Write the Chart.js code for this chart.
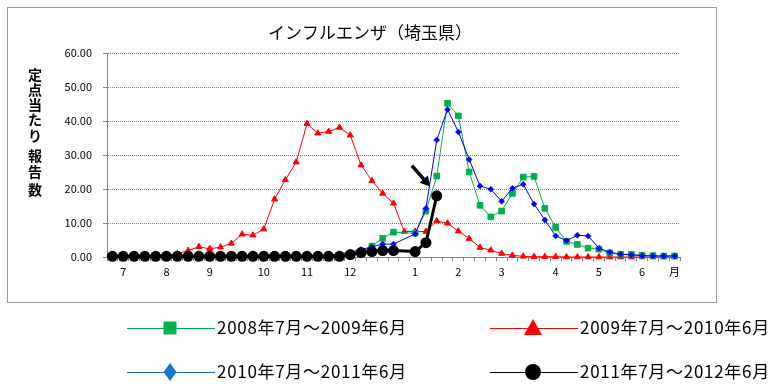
<!DOCTYPE html>
<html>
<head>
<meta charset="utf-8">
<script src="https://cdn.jsdelivr.net/npm/chart.js@4"></script>
<style>
  html, body { margin: 0; padding: 0; background: #fff; }
</style>
</head>
<body>
<canvas id="chart" width="777" height="384"></canvas>
<script>
// 週ごとのカテゴリ (53週、月の区切りだけラベルあり)
const weekLabels = [
  "", "7", "", "", "", "8", "", "", "", "9", "", "", "", "", "10", "", "", "",
  "11", "", "", "", "12", "", "", "", "", "", "1", "", "", "", "2", "", "", "",
  "3", "", "", "", "", "4", "", "", "", "5", "", "", "", "6", "", "", "月"
];

const yTicks = [0, 10, 20, 30, 40, 50, 60];

const seasonNames = [
  "2008年7月～2009年6月",
  "2009年7月～2010年6月",
  "2010年7月～2011年6月",
  "2011年7月～2012年6月"
];

// 2008年7月～2009年6月
const season0809 = [
  0.1, 0.1, 0.1, 0.1, 0.1, 0.1, 0.1, 0.1, 0.1, 0.1, 0.1, 0.1, 0.1, 0.1, 0.1, 0.1, 0.2, 0.2,
  0.2, 0.3, 0.3, 0.4, 0.6, 1.4, 3.2, 5.5, 7.3, null, 7.0, 13.5, 23.8, 45.2, 41.5, 25.0, 15.2, 11.8,
  13.5, 18.7, 23.5, 23.7, 14.3, 8.7, 4.6, 3.7, 2.6, 2.3, 1.2, 0.8, 0.8, 0.5, 0.4, 0.3, 0.3
];

// 2009年7月～2010年6月
const season0910 = [
  0.2, 0.2, 0.3, 0.3, 0.4, 0.5, 0.9, 1.9, 3.0, 2.4, 2.9, 4.0, 6.7, 6.4, 8.2, 17.0, 22.7, 27.9,
  39.2, 36.4, 36.9, 38.1, 35.8, 27.0, 22.4, 18.7, 15.8, 7.5, 7.5, 7.5, 10.6, 9.9, 7.6, 5.4, 2.8, 2.0,
  1.0, 0.5, 0.2, 0.1, 0.1, 0.1, 0.0, 0.0, 0.0, 0.0, 0.0, 0.0, 0.0, 0.0, 0.0, 0.0, 0.0
];

// 2010年7月～2011年6月
const season1011 = [
  0.1, 0.1, 0.1, 0.1, 0.1, 0.1, 0.1, 0.1, 0.1, 0.1, 0.1, 0.1, 0.1, 0.1, 0.1, 0.1, 0.1, 0.2,
  0.2, 0.3, 0.5, 0.9, 1.4, 2.2, 3.0, 3.8, 3.8, null, 6.8, 14.3, 34.4, 43.4, 36.8, 28.7, 20.9, 19.9,
  16.4, 20.2, 21.4, 15.6, 10.9, 6.2, 4.8, 6.4, 6.2, 2.6, 1.4, 0.8, 0.6, 0.4, 0.3, 0.3, 0.3
];

// 2011年7月～2012年6月
const season1112 = [
  0.2, 0.2, 0.2, 0.2, 0.2, 0.2, 0.2, 0.2, 0.2, 0.2, 0.2, 0.2, 0.2, 0.2, 0.2, 0.2, 0.2, 0.2,
  0.2, 0.2, 0.2, 0.2, 0.7, 1.3, 1.6, 1.9, 1.9, null, 1.6, 4.2, 18.0
];

// 矢印 (カテゴリ位置, 値)
const arrowFrom = [27.7, 26.9];
const arrowTo = [29.4, 20.7];

const FONT = '"Noto Sans CJK JP", "Noto Sans", sans-serif';
Chart.defaults.font.family = FONT;
Chart.defaults.color = "#000";

const legendItems = [
  { style: "rect", color: "#00B050", line: "#00A050", x: 127, y: 328 },
  { style: "triangle", color: "#FF0000", line: "#FF0000", x: 490, y: 328 },
  { style: "diamond", color: "#1878C8", line: "#1F6BB8", x: 127, y: 372 },
  { style: "circle", color: "#000000", line: "#000000", x: 490, y: 372 }
];

function drawMarker(ctx, style, x, y, color) {
  ctx.fillStyle = color;
  ctx.beginPath();
  if (style === "rect") {
    ctx.rect(x - 6.5, y - 6.5, 13, 13);
  } else if (style === "triangle") {
    ctx.moveTo(x, y - 9);
    ctx.lineTo(x + 9, y + 7);
    ctx.lineTo(x - 9, y + 7);
    ctx.closePath();
  } else if (style === "diamond") {
    ctx.moveTo(x, y - 9);
    ctx.lineTo(x + 6.5, y);
    ctx.lineTo(x, y + 9);
    ctx.lineTo(x - 6.5, y);
    ctx.closePath();
  } else {
    ctx.arc(x, y, 8, 0, Math.PI * 2);
  }
  ctx.fill();
}

const decorations = {
  id: "decorations",
  beforeDraw(chart) {
    const ctx = chart.ctx;
    ctx.save();
    ctx.fillStyle = "#fff";
    ctx.fillRect(0, 0, chart.width, chart.height);
    ctx.strokeStyle = "#9a9a9a";
    ctx.lineWidth = 1;
    ctx.strokeRect(7.5, 7.5, 709, 295);
    ctx.restore();
  },
  afterDraw(chart) {
    const ctx = chart.ctx;
    const xs = chart.scales.x;
    const ys = chart.scales.y;
    ctx.save();

    // タイトル
    ctx.fillStyle = "#000";
    ctx.font = "17px " + FONT;
    ctx.textAlign = "center";
    ctx.textBaseline = "middle";
    ctx.fillText("インフルエンザ（埼玉県）", 370, 33);

    // 縦書きの軸タイトル
    ctx.font = "bold 14px " + FONT;
    const chars = "定点当たり報告数".split("");
    const ys0 = [75, 90, 105, 120, 136, 156, 172, 190];
    chars.forEach((c, i) => ctx.fillText(c, 35, ys0[i]));

    // 矢印
    const x1 = xs.getPixelForValue(arrowFrom[0]);
    const y1 = ys.getPixelForValue(arrowFrom[1]);
    const x2 = xs.getPixelForValue(arrowTo[0]);
    const y2 = ys.getPixelForValue(arrowTo[1]);
    const ang = Math.atan2(y2 - y1, x2 - x1);
    const head = 10;
    ctx.strokeStyle = "#000";
    ctx.lineWidth = 3.5;
    ctx.beginPath();
    ctx.moveTo(x1, y1);
    ctx.lineTo(x2 - Math.cos(ang) * head * 0.8, y2 - Math.sin(ang) * head * 0.8);
    ctx.stroke();
    ctx.fillStyle = "#000";
    ctx.beginPath();
    ctx.moveTo(x2, y2);
    ctx.lineTo(x2 - head * Math.cos(ang) + 5.5 * Math.sin(ang), y2 - head * Math.sin(ang) - 5.5 * Math.cos(ang));
    ctx.lineTo(x2 - head * Math.cos(ang) - 5.5 * Math.sin(ang), y2 - head * Math.sin(ang) + 5.5 * Math.cos(ang));
    ctx.closePath();
    ctx.fill();

    // 凡例
    ctx.font = "17px " + FONT;
    ctx.letterSpacing = "0.7px";
    ctx.textAlign = "left";
    legendItems.forEach((item, i) => {
      ctx.strokeStyle = item.line;
      ctx.lineWidth = 1;
      ctx.beginPath();
      ctx.moveTo(item.x, item.y + 0.5);
      ctx.lineTo(item.x + 88, item.y + 0.5);
      ctx.stroke();
      drawMarker(ctx, item.style, item.x + 43, item.y, item.color);
      ctx.fillStyle = "#000";
      ctx.fillText(seasonNames[i], item.x + 90, item.y);
    });
    ctx.restore();
  }
};

new Chart(document.getElementById("chart"), {
  type: "line",
  data: {
    labels: weekLabels,
    datasets: [
      {
        label: seasonNames[3],
        data: season1112,
        borderColor: "#000",
        backgroundColor: "#000",
        borderWidth: 3,
        pointStyle: "circle",
        pointRadius: 5.5,
        pointBorderWidth: 0,
        order: 0
      },
      {
        label: seasonNames[2],
        data: season1011,
        borderColor: "#0000FF",
        backgroundColor: "#0000FF",
        borderWidth: 1,
        pointStyle: "rectRot",
        pointRadius: 3,
        pointBorderWidth: 0.5,
        order: 1
      },
      {
        label: seasonNames[0],
        data: season0809,
        borderColor: "#00B050",
        backgroundColor: "#00B050",
        borderWidth: 1,
        pointStyle: "rect",
        pointRadius: 4,
        pointBorderWidth: 1,
        order: 2
      },
      {
        label: seasonNames[1],
        data: season0910,
        borderColor: "#FF0000",
        backgroundColor: "#FF0000",
        borderWidth: 1,
        pointStyle: "triangle",
        pointRadius: 3.5,
        pointBorderWidth: 1,
        order: 3
      }
    ]
  },
  options: {
    responsive: false,
    animation: false,
    spanGaps: true,
    clip: false,
    layout: { padding: { left: 0, top: 53, right: 97, bottom: 0 } },
    plugins: {
      legend: { display: false },
      tooltip: { enabled: false },
      title: { display: false }
    },
    elements: { line: { tension: 0 } },
    scales: {
      x: {
        type: "category",
        offset: true,
        afterFit(scale) { scale.height = 127; },
        grid: {
          offset: true,
          drawOnChartArea: false,
          drawTicks: true,
          tickLength: 4,
          tickColor: "#868686"
        },
        border: { color: "#868686", width: 1 },
        ticks: {
          autoSkip: false,
          maxRotation: 0,
          minRotation: 0,
          padding: 4,
          font: { size: 11 },
          color: "#000"
        }
      },
      y: {
        min: 0,
        max: 60,
        afterFit(scale) { scale.width = 107; },
        afterBuildTicks(scale) { scale.ticks = yTicks.map(v => ({ value: v })); },
        grid: {
          color: "#7f7f7f",
          tickColor: "#868686",
          tickLength: 4,
          drawTicks: true
        },
        border: { color: "#868686", width: 1, dash: [1, 1] },
        ticks: {
          padding: 11,
          font: { size: 11 },
          color: "#000",
          callback: v => Number(v).toFixed(2)
        }
      }
    }
  },
  plugins: [decorations]
});
</script>
</body>
</html>
